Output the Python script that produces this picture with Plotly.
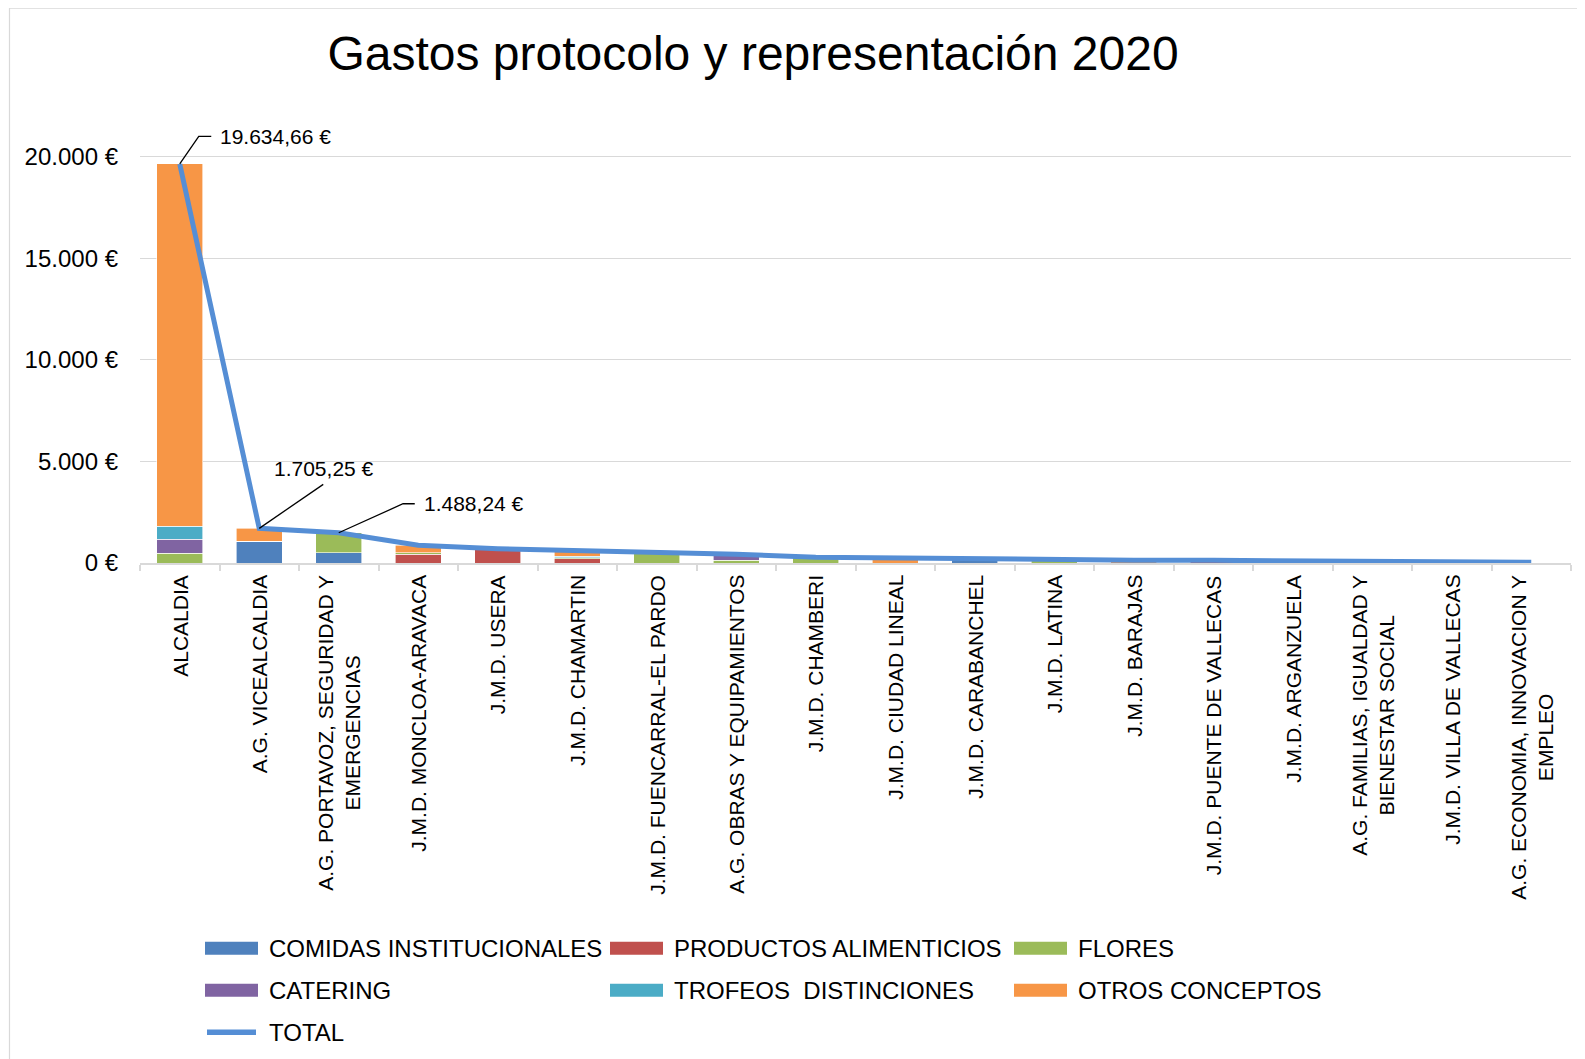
import plotly.graph_objects as go

# ---------------- data ----------------
categories = [
    "ALCALDIA", "A.G. VICEALCALDIA", "A.G. PORTAVOZ, SEGURIDAD Y EMERGENCIAS",
    "J.M.D. MONCLOA-ARAVACA", "J.M.D. USERA", "J.M.D. CHAMARTIN",
    "J.M.D. FUENCARRAL-EL PARDO", "A.G. OBRAS Y EQUIPAMIENTOS", "J.M.D. CHAMBERI",
    "J.M.D. CIUDAD LINEAL", "J.M.D. CARABANCHEL", "J.M.D. LATINA", "J.M.D. BARAJAS",
    "J.M.D. PUENTE DE VALLECAS", "J.M.D. ARGANZUELA",
    "A.G. FAMILIAS, IGUALDAD Y BIENESTAR SOCIAL", "J.M.D. VILLA DE VALLECAS",
    "A.G. ECONOMIA, INNOVACION Y EMPLEO",
]
tick_labels = [
    "ALCALDIA", "A.G. VICEALCALDIA", "A.G. PORTAVOZ, SEGURIDAD Y<br>EMERGENCIAS",
    "J.M.D. MONCLOA-ARAVACA", "J.M.D. USERA", "J.M.D. CHAMARTIN",
    "J.M.D. FUENCARRAL-EL PARDO", "A.G. OBRAS Y EQUIPAMIENTOS", "J.M.D. CHAMBERI",
    "J.M.D. CIUDAD LINEAL", "J.M.D. CARABANCHEL", "J.M.D. LATINA", "J.M.D. BARAJAS",
    "J.M.D. PUENTE DE VALLECAS", "J.M.D. ARGANZUELA",
    "A.G. FAMILIAS, IGUALDAD Y<br>BIENESTAR SOCIAL", "J.M.D. VILLA DE VALLECAS",
    "A.G. ECONOMIA, INNOVACION Y<br>EMPLEO",
]
comidas   = [0, 1062, 495, 0, 0, 0, 0, 0, 0, 0, 180, 0, 0, 0, 0, 100, 0, 35]
productos = [0, 0, 0, 443, 700, 213, 0, 0, 0, 0, 0, 0, 0, 130, 0, 0, 0, 0]
flores    = [492, 0, 993.24, 50, 0, 50, 510, 130, 280, 0, 0, 150, 0, 0, 110, 0, 90, 0]
catering  = [688, 0, 0, 0, 0, 0, 0, 300, 0, 0, 0, 0, 0, 0, 0, 0, 0, 0]
trofeos   = [620, 0, 0, 0, 0, 60, 0, 0, 0, 0, 0, 0, 0, 0, 0, 0, 0, 0]
otros     = [17834.66, 643.25, 0, 377, 0, 307, 0, 0, 0, 230, 0, 0, 140, 0, 0, 0, 0, 0]
total     = [19634.66, 1705.25, 1488.24, 870, 700, 630, 510, 430, 280, 230, 180,
             150, 140, 130, 110, 100, 90, 35]

series_names = ["COMIDAS INSTITUCIONALES", "PRODUCTOS ALIMENTICIOS", "FLORES",
                "CATERING", "TROFEOS  DISTINCIONES", "OTROS CONCEPTOS"]
series_values = [comidas, productos, flores, catering, trofeos, otros]
series_colors = ["#4F81BD", "#C0504D", "#9BBB59", "#8064A2", "#4BACC6", "#F79646"]
line_name = "TOTAL"
line_color = "#558ED5"

y_ticks = [0, 5000, 10000, 15000, 20000]
y_tick_text = ["0 €", "5.000 €", "10.000 €", "15.000 €", "20.000 €"]

# labelled points: index, label
labels_idx = [0, 1, 2]
labels_txt = ["19.634,66 €", "1.705,25 €", "1.488,24 €"]

FONT = "Liberation Sans, Arial, sans-serif"

# ---------------- layout geometry (pixels) ----------------
W, H = 1585, 1059
OFF = 8                      # page offset of the figure inside the browser
PL, PR = 140 - OFF, 1571 - OFF
PB = 563 - OFF               # pixel row of value 0
PX_PER_EURO = 406.3 / 20000  # 20000 gridline at ~156.7
Y_MAX = 21500
PT = PB - Y_MAX * PX_PER_EURO


def px_x(px):
    return (px - OFF - PL) / (PR - PL)


def px_y(py):
    return (PB - (py - OFF)) / (PB - PT)


fig = go.Figure()
for name, vals, col in zip(series_names, series_values, series_colors):
    fig.add_trace(go.Bar(
        x=categories, y=vals, name=name, showlegend=False,
        marker=dict(color=col, line=dict(color="white", width=0.6)),
    ))
fig.add_trace(go.Scatter(
    x=categories, y=total, name=line_name, mode="lines", showlegend=False,
    line=dict(color=line_color, width=5),
))

annotations = []
shapes = []

# x tick labels as rotated annotations (centered multi-line)
for c, t in zip(categories, tick_labels):
    annotations.append(dict(
        x=c, y=0, xref="x", yref="y", text=t, showarrow=False,
        textangle=-90, xanchor="center", yanchor="top", yshift=-10,
        align="center", font=dict(family=FONT, size=21, color="#000000"),
    ))

# data label leader lines (pixel paths relative to the data point)
leader_paths = ["M0,0 L19,27.6 L31.5,27.6", "M0,0 L64,44", "M0,0 L64.3,29 L76,29"]
text_pos = [("left", 38, 27), ("center", 65, 60), ("left", 83, 29)]
for i, txt, p, (xa, xs, ys) in zip(labels_idx, labels_txt, leader_paths, text_pos):
    shapes.append(dict(
        type="path", xref="x", yref="y", xsizemode="pixel", ysizemode="pixel",
        xanchor=categories[i], yanchor=total[i], path=p,
        line=dict(color="#000000", width=1.3),
    ))
    annotations.append(dict(
        x=categories[i], y=total[i], xref="x", yref="y", text=txt,
        showarrow=False, xanchor=xa, yanchor="middle", xshift=xs, yshift=ys,
        font=dict(family=FONT, size=21, color="#000000"),
    ))

# legend (drawn as swatches + text, 3 columns like the original)
legend_names = series_names + [line_name]
legend_colors = series_colors + [line_color]
col_x = [205, 610, 1014]
row_y = [948, 990, 1032]
for i, (nm, colr) in enumerate(zip(legend_names, legend_colors)):
    cx, cy = col_x[i % 3], row_y[i // 3]
    if nm == line_name:
        shapes.append(dict(
            type="line", xref="paper", yref="paper",
            x0=px_x(cx + 2), x1=px_x(cx + 51), y0=px_y(cy), y1=px_y(cy),
            line=dict(color=colr, width=5.5),
        ))
    else:
        shapes.append(dict(
            type="rect", xref="paper", yref="paper",
            x0=px_x(cx), x1=px_x(cx + 53), y0=px_y(cy - 6.5), y1=px_y(cy + 6.5),
            line=dict(width=0), fillcolor=colr,
        ))
    annotations.append(dict(
        x=px_x(cx + 62), y=px_y(cy), xref="paper", yref="paper", text=nm,
        showarrow=False, xanchor="left", yanchor="middle",
        font=dict(family=FONT, size=24, color="#000000"),
    ))

# chart area border (partially cropped in reference)
shapes.append(dict(
    type="rect", xref="paper", yref="paper", x0=px_x(9.5), x1=px_x(W + 40),
    y0=px_y(H + 40), y1=px_y(8.5),
    line=dict(color="#D9D9D9", width=1.2), layer="below",
))

fig.update_layout(
    width=W, height=H,
    margin=dict(l=PL, r=W - PR, t=PT, b=H - PB, autoexpand=False),
    paper_bgcolor="white", plot_bgcolor="white",
    barmode="stack", bargap=0.425,
    font=dict(family=FONT, color="#000000"),
    title=dict(text="Gastos protocolo y representación 2020",
               x=745 / W, xref="container", xanchor="center",
               y=1 - 45 / H, yref="container", yanchor="middle",
               font=dict(family=FONT, size=48, color="#000000")),
    xaxis=dict(
        type="category", showticklabels=False, showgrid=False,
        showline=True, linecolor="#D9D9D9", linewidth=1.5,
        ticks="outside", tickson="boundaries", ticklen=6, tickcolor="#D9D9D9",
        tickwidth=1.5, range=[-0.5, len(categories) - 0.5], automargin=False,
    ),
    yaxis=dict(
        range=[0, Y_MAX], tickvals=y_ticks, ticktext=y_tick_text,
        showgrid=True, gridcolor="#D9D9D9", gridwidth=1.3, zeroline=False,
        showline=False, ticks="", ticklabelstandoff=21, automargin=False,
        tickfont=dict(family=FONT, size=24, color="#000000"),
    ),
    showlegend=False,
    shapes=shapes, annotations=annotations,
)

fig.write_html("out.html")
